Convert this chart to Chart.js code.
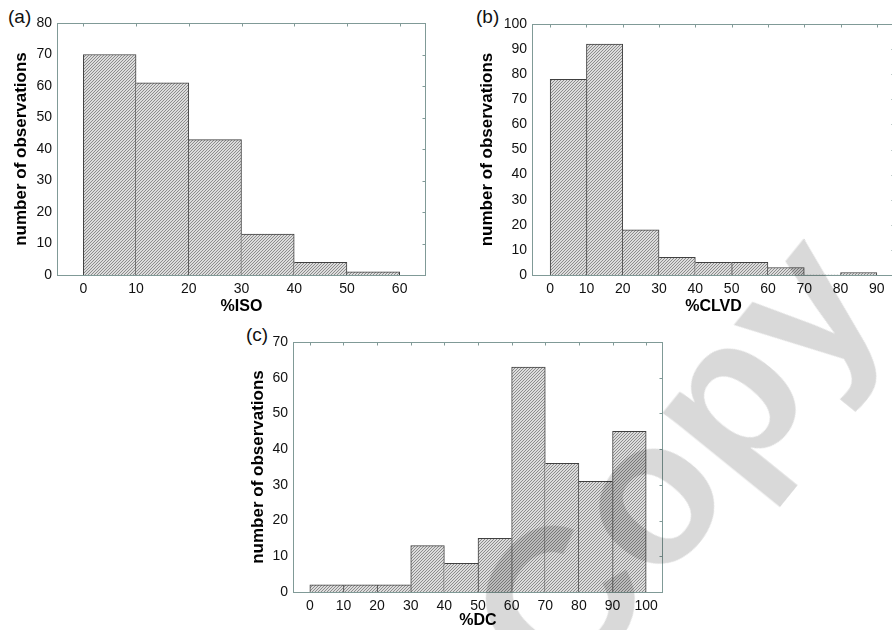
<!DOCTYPE html>
<html>
<head>
<meta charset="utf-8">
<script src="https://cdn.jsdelivr.net/npm/chart.js@4.4.0/dist/chart.umd.min.js"></script>
<style>
  html, body { margin: 0; padding: 0; background: #fff; overflow: hidden; }
  body { width: 892px; height: 630px; position: relative; }
  canvas { position: absolute; }
  .tag { position: absolute; font: 19px 'Liberation Sans', Arial, sans-serif; color: #111; line-height: 1; }
  #stamp {
    position: absolute; left: 672px; top: 460px;
    font: bold 205px 'Liberation Sans', Arial, sans-serif; line-height: 1;
    color: rgba(0, 0, 0, 0.15); white-space: nowrap; pointer-events: none;
    transform: translate(-50%, -50%) rotate(-51deg);
  }
</style>
</head>
<body>
<div class="tag" style="left:8px;top:7px">(a)</div>
<div class="tag" style="left:476px;top:7px">(b)</div>
<div class="tag" style="left:246px;top:325px">(c)</div>
<canvas id="chartA" width="440" height="320" style="left:0;top:0"></canvas>
<canvas id="chartB" width="460" height="320" style="left:440px;top:0"></canvas>
<canvas id="chartC" width="440" height="310" style="left:230px;top:320px"></canvas>
<div id="stamp">Copy</div>

<script>
// bin edges (also the x tick labels) and counts per bin
const isoEdges = [0, 10, 20, 30, 40, 50, 60];
const isoCounts = [70, 61, 43, 13, 4, 1];
const isoYTicks = [0, 10, 20, 30, 40, 50, 60, 70, 80];

const clvdEdges = [0, 10, 20, 30, 40, 50, 60, 70, 80, 90];
const clvdCounts = [78, 92, 18, 7, 5, 5, 3, 0, 1];
const clvdYTicks = [0, 10, 20, 30, 40, 50, 60, 70, 80, 90, 100];

const dcEdges = [0, 10, 20, 30, 40, 50, 60, 70, 80, 90, 100];
const dcCounts = [2, 2, 2, 13, 8, 15, 63, 36, 31, 45];
const dcYTicks = [0, 10, 20, 30, 40, 50, 60, 70];

const FONT = "'Liberation Sans', Arial, sans-serif";
const FRAME = '#809a97';

// grey fill with fine "/" hatching
function hatchFor(canvas) {
    const tile = document.createElement('canvas');
    tile.width = 3;
    tile.height = 3;
    const g = tile.getContext('2d');
    g.fillStyle = '#dcdcdc';
    g.fillRect(0, 0, 3, 3);
    g.fillStyle = '#8c8c8c';
    for (let i = 0; i < 3; i++) g.fillRect(2 - i, i, 1, 1);
    return canvas.getContext('2d').createPattern(tile, 'repeat');
}

// box round the plot with small inward ticks on top and right
const framePlugin = {
    id: 'frame',
    afterDatasetsDraw(chart) {
        const { ctx, chartArea: a, scales: { x, y } } = chart;
        const L = Math.round(a.left) + 0.5, R = Math.round(a.right) - 0.5;
        const T = Math.round(a.top) + 0.5, B = Math.round(a.bottom) + 0.5;
        ctx.save();
        ctx.strokeStyle = FRAME;
        ctx.lineWidth = 1;
        ctx.strokeRect(L, T, R - L, B - T);
        ctx.beginPath();
        x.ticks.forEach(t => {
            const px = Math.round(x.getPixelForValue(t.value)) + 0.5;
            ctx.moveTo(px, T);
            ctx.lineTo(px, T + 3);
        });
        y.ticks.forEach(t => {
            const py = Math.round(y.getPixelForValue(t.value)) + 0.5;
            ctx.moveTo(R, py);
            ctx.lineTo(R - 3, py);
        });
        ctx.stroke();
        ctx.restore();
    }
};

function histogram(id, edges, counts, yTicks, xTitle, box) {
    const canvas = document.getElementById(id);
    const points = counts.map((v, i) => ({ x: (edges[i] + edges[i + 1]) / 2, y: v }));

    // shared edges drawn once, by the taller neighbour
    const borderWidth = (ctx) => {
        const i = ctx.dataIndex;
        if (i === undefined) return 1;
        const v = counts[i];
        return {
            top: 1,
            bottom: 0,
            left: (i === 0 || counts[i - 1] <= v) ? 1 : 0,
            right: (i < counts.length - 1 && counts[i + 1] >= v) ? 0 : 1
        };
    };

    return new Chart(canvas, {
        type: 'bar',
        data: {
            datasets: [{
                data: points,
                backgroundColor: hatchFor(canvas),
                borderColor: '#404040',
                borderWidth: borderWidth,
                barPercentage: 1,
                categoryPercentage: 1
            }]
        },
        options: {
            responsive: false,
            animation: false,
            layout: { padding: { top: box.top, right: box.right, left: 0, bottom: 0 } },
            plugins: { legend: { display: false }, tooltip: { enabled: false } },
            scales: {
                x: {
                    type: 'linear',
                    offset: false,
                    min: edges[0] - 5,
                    max: edges[edges.length - 1] + 5,
                    afterBuildTicks: s => { s.ticks = edges.map(v => ({ value: v })); },
                    afterFit: s => { s.height = box.xHeight; },
                    grid: { display: false, drawTicks: false },
                    border: { display: false },
                    ticks: { padding: 6, color: '#111', autoSkip: false, maxRotation: 0, font: { family: FONT, size: 14 } },
                    title: {
                        display: true, text: xTitle, color: '#000',
                        font: { family: FONT, size: 16, weight: 'bold', lineHeight: 1 },
                        padding: { top: 0, bottom: box.xTitlePad }
                    }
                },
                y: {
                    min: yTicks[0],
                    max: yTicks[yTicks.length - 1],
                    afterBuildTicks: s => { s.ticks = yTicks.map(v => ({ value: v })); },
                    afterFit: s => { s.width = box.yWidth; },
                    grid: { display: false, drawTicks: false },
                    border: { display: false },
                    ticks: { padding: 5, color: '#111', font: { family: FONT, size: 14 } },
                    title: {
                        display: true, text: 'number of observations', color: '#000',
                        font: { family: FONT, size: 17, weight: 'bold', lineHeight: 1 },
                        padding: { top: box.yTitlePad, bottom: 0 }
                    }
                }
            }
        },
        plugins: [framePlugin]
    });
}

histogram('chartA', isoEdges, isoCounts, isoYTicks, '%ISO',
    { top: 23, right: 14, yWidth: 57, xHeight: 45, yTitlePad: 12.5, xTitlePad: 5 });
histogram('chartB', clvdEdges, clvdCounts, clvdYTicks, '%CLVD',
    { top: 24, right: 5, yWidth: 92, xHeight: 45, yTitlePad: 39, xTitlePad: 5 });
histogram('chartC', dcEdges, dcCounts, dcYTicks, '%DC',
    { top: 22, right: 7, yWidth: 63, xHeight: 38, yTitlePad: 19.5, xTitlePad: 1 });
</script>
</body>
</html>
